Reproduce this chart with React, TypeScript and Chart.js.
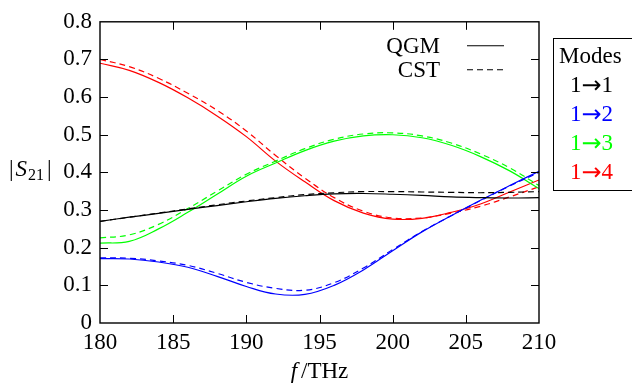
import { useEffect, useRef } from 'react';
import { Chart, registerables } from 'chart.js';

Chart.register(...registerables);

const freq = [180, 182, 184, 186, 188, 190, 192, 194, 196, 198, 200, 202, 204, 206, 208, 210];

const qgm11 = [0.27, 0.281, 0.291, 0.302, 0.312, 0.322, 0.331, 0.338, 0.343, 0.344, 0.342, 0.339, 0.335, 0.333, 0.332, 0.333];
const cst11 = [0.27, 0.281, 0.292, 0.303, 0.314, 0.324, 0.333, 0.341, 0.346, 0.349, 0.349, 0.348, 0.347, 0.346, 0.347, 0.349];
const qgm12 = [0.171, 0.17, 0.162, 0.148, 0.124, 0.097, 0.077, 0.076, 0.1, 0.141, 0.192, 0.242, 0.285, 0.326, 0.365, 0.403];
const cst12 = [0.173, 0.172, 0.165, 0.153, 0.132, 0.108, 0.092, 0.087, 0.107, 0.146, 0.195, 0.243, 0.285, 0.325, 0.364, 0.4];
const qgm13 = [0.212, 0.217, 0.25, 0.294, 0.342, 0.39, 0.425, 0.458, 0.483, 0.497, 0.5, 0.492, 0.472, 0.442, 0.404, 0.357];
const cst13 = [0.226, 0.234, 0.262, 0.304, 0.35, 0.395, 0.43, 0.463, 0.488, 0.502, 0.505, 0.497, 0.478, 0.449, 0.412, 0.365];
const qgm14 = [0.69, 0.671, 0.639, 0.598, 0.55, 0.495, 0.43, 0.375, 0.325, 0.292, 0.276, 0.278, 0.294, 0.316, 0.348, 0.38];
const cst14 = [0.7, 0.681, 0.65, 0.61, 0.565, 0.51, 0.445, 0.385, 0.333, 0.297, 0.279, 0.279, 0.292, 0.31, 0.335, 0.362];

const xTicks = [180, 185, 190, 195, 200, 205, 210];
const yTicks = [0, 0.1, 0.2, 0.3, 0.4, 0.5, 0.6, 0.7, 0.8];
const modeFrom = ['1', '1', '1', '1'];
const modeTo = ['1', '2', '3', '4'];
const modeLabels = ['1→1', '1→2', '1→3', '1→4'];
const modeColors = ['#000000', '#0000ff', '#00ff00', '#ff0000'];
const methodLabels = ['QGM', 'CST'];

const FONT = 'Liberation Serif';
const ARROW_FONT = 'DejaVu Sans';
const FS = 23;
const DASH = [6, 4];

const qgmSeries = [qgm11, qgm12, qgm13, qgm14];
const cstSeries = [cst11, cst12, cst13, cst14];

const decor = {
  id: 'decor',
  afterDraw(chart: any) {
    const ctx = chart.ctx as CanvasRenderingContext2D;
    const a = chart.chartArea;
    const xs = chart.scales.x;
    const ys = chart.scales.y;
    ctx.save();
    ctx.strokeStyle = '#000';
    ctx.lineWidth = 1.4;
    ctx.setLineDash([]);
    ctx.strokeRect(a.left, a.top, a.right - a.left, a.bottom - a.top);
    const TL = 8;
    ctx.lineWidth = 1;
    ctx.beginPath();
    xTicks.slice(1, -1).forEach((t) => {
      const px = Math.round(xs.getPixelForValue(t)) + 0.5;
      ctx.moveTo(px, a.bottom);
      ctx.lineTo(px, a.bottom - TL);
      ctx.moveTo(px, a.top);
      ctx.lineTo(px, a.top + TL);
    });
    yTicks.slice(1, -1).forEach((t) => {
      const py = Math.round(ys.getPixelForValue(t)) + 0.5;
      ctx.moveTo(a.left, py);
      ctx.lineTo(a.left + TL, py);
      ctx.moveTo(a.right, py);
      ctx.lineTo(a.right - TL, py);
    });
    ctx.stroke();

    ctx.fillStyle = '#000';
    ctx.font = `${FS}px ${FONT}`;
    ctx.textAlign = 'right';
    ctx.textBaseline = 'middle';
    methodLabels.forEach((lab, i) => {
      const y = a.top + 24 + i * 24;
      ctx.fillText(lab, a.right - 99, y + 1);
      ctx.beginPath();
      ctx.setLineDash(i === 0 ? [] : DASH);
      ctx.lineWidth = 1.1;
      ctx.moveTo(a.right - 72, y);
      ctx.lineTo(a.right - 35, y);
      ctx.stroke();
    });
    ctx.setLineDash([]);

    const bx = a.right + 14;
    const by = a.top + 16;
    ctx.lineWidth = 1;
    ctx.strokeRect(Math.round(bx) + 0.5, Math.round(by) + 0.5, 120, 152);
    ctx.textAlign = 'left';
    ctx.fillStyle = '#000';
    ctx.font = `${FS}px ${FONT}`;
    ctx.fillText('Modes', bx + 6, by + 19);
    modeLabels.forEach((_lab, i) => {
      const y = by + 48 + i * 29;
      let x = bx + 17;
      ctx.fillStyle = modeColors[i];
      ctx.font = `${FS}px ${FONT}`;
      ctx.fillText(modeFrom[i], x, y);
      x += ctx.measureText(modeFrom[i]).width;
      ctx.font = `24px ${ARROW_FONT}`;
      ctx.fillText('→', x, y + 1);
      x += ctx.measureText('→').width;
      ctx.font = `${FS}px ${FONT}`;
      ctx.fillText(modeTo[i], x, y);
    });

    ctx.fillStyle = '#000';
    const ty = (a.top + a.bottom) / 2 - 2;
    let x = 9;
    ctx.font = `${FS}px ${FONT}`;
    ctx.fillText('|', x, ty);
    x += ctx.measureText('|').width + 2;
    ctx.font = `italic ${FS}px ${FONT}`;
    ctx.fillText('S', x, ty);
    x += ctx.measureText('S').width + 1;
    ctx.font = `16px ${FONT}`;
    ctx.fillText('21', x, ty + 5);
    x += ctx.measureText('21').width + 3;
    ctx.font = `${FS}px ${FONT}`;
    ctx.fillText('|', x, ty);

    const tx = (a.left + a.right) / 2;
    const tyy = a.bottom + 49;
    ctx.font = `italic ${FS}px ${FONT}`;
    const wf = ctx.measureText('f').width;
    ctx.font = `${FS}px ${FONT}`;
    const wr = ctx.measureText('/THz').width;
    const x0 = tx - (wf + 4 + wr) / 2;
    ctx.font = `italic ${FS}px ${FONT}`;
    ctx.fillText('f', x0, tyy);
    ctx.font = `${FS}px ${FONT}`;
    ctx.fillText('/THz', x0 + wf + 4, tyy);
    ctx.restore();
  },
};

export default function App() {
  const ref = useRef<HTMLCanvasElement | null>(null);
  useEffect(() => {
    if (!ref.current) return;
    const datasets: any[] = [];
    qgmSeries.forEach((s, i) => {
      datasets.push({
        label: `QGM ${modeLabels[i]}`,
        data: freq.map((f, j) => ({ x: f, y: s[j] })),
        borderColor: modeColors[i],
        borderWidth: 1.2,
        pointRadius: 0,
        fill: false,
        tension: 0.4,
      });
      datasets.push({
        label: `CST ${modeLabels[i]}`,
        data: freq.map((f, j) => ({ x: f, y: cstSeries[i][j] })),
        borderColor: modeColors[i],
        borderWidth: 1.2,
        borderDash: DASH,
        pointRadius: 0,
        fill: false,
        tension: 0.4,
      });
    });
    const chart = new Chart(ref.current, {
      type: 'line',
      data: { datasets },
      options: {
        animation: false,
        responsive: true,
        maintainAspectRatio: false,
        layout: { padding: { left: 0, top: 16, right: 93, bottom: 0 } },
        plugins: { legend: { display: false }, tooltip: { enabled: false } },
        scales: {
          x: {
            type: 'linear',
            min: 180,
            max: 210,
            afterFit: (s: any) => { s.height = 64; },
            afterBuildTicks: (s: any) => { s.ticks = xTicks.map((v) => ({ value: v })); },
            grid: { display: false, drawTicks: false },
            border: { display: false },
            ticks: {
              padding: 6,
              color: '#000',
              font: { family: FONT, size: FS },
              maxRotation: 0,
              callback: (v: any) => String(v),
            },
          },
          y: {
            type: 'linear',
            min: 0,
            max: 0.8,
            afterFit: (s: any) => { s.width = 100; },
            afterBuildTicks: (s: any) => { s.ticks = yTicks.map((v) => ({ value: v })); },
            grid: { display: false, drawTicks: false },
            border: { display: false },
            ticks: {
              padding: 8,
              color: '#000',
              font: { family: FONT, size: FS },
              callback: (v: any) => (Number(v) === 0 ? '0' : Number(v).toFixed(1)),
            },
          },
        },
      },
      plugins: [decor],
    });
    return () => chart.destroy();
  }, []);
  return (
    <div style={{ position: 'absolute', left: 0, top: 0, width: 632, height: 387, background: '#fff' }}>
      <canvas ref={ref} />
    </div>
  );
}
